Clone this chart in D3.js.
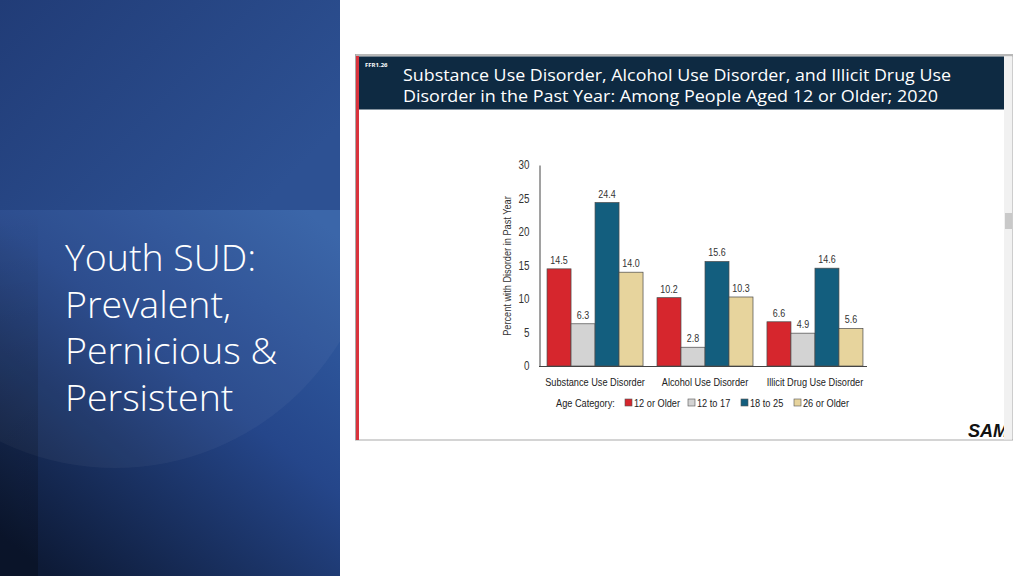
<!DOCTYPE html>
<meta charset="utf-8">
<script src="https://d3js.org/d3.v7.min.js"></script>
<style>
body { margin: 0; background: #fff; }
svg { display: block; }
.narrow { font-family: "Liberation Sans Narrow", "Arial Narrow", "Liberation Sans", Arial, sans-serif; }
</style>
<body>
<div id="my_dataviz"></div>
<script>
  // data
  var categories = ["Substance Use Disorder", "Alcohol Use Disorder", "Illicit Drug Use Disorder"];
  var ageGroups = ["12 or Older", "12 to 17", "18 to 25", "26 or Older"];
  var values12Plus = [14.5, 10.2, 6.6];
  var values12to17 = [6.3, 2.8, 4.9];
  var values18to25 = [24.4, 15.6, 14.6];
  var values26Plus = [14.0, 10.3, 5.6];
  var yTicks = [0, 5, 10, 15, 20, 25, 30];
  var titleLines = ["Substance Use Disorder, Alcohol Use Disorder, and Illicit Drug Use",
                    "Disorder in the Past Year: Among People Aged 12 or Older; 2020"];
  var slideTitle = ["Youth SUD:", "Prevalent,", "Pernicious &", "Persistent"];

  var seriesValues = [values12Plus, values12to17, values18to25, values26Plus];
  var colors = ["#d6262d", "#d3d3d3", "#135e7e", "#e7d49d"];

  // squeeze glyphs horizontally to mimic a narrow font
  function condense(sel, f) {
    sel.each(function() {
      var w = this.getComputedTextLength();
      d3.select(this).attr("textLength", w * f).attr("lengthAdjust", "spacingAndGlyphs");
    });
  }

  var W = 1024, H = 576;
  var svg = d3.select("#my_dataviz").append("svg")
      .attr("width", W).attr("height", H);

  var defs = svg.append("defs");

  // ---- left blue panel ----
  var g1 = defs.append("linearGradient").attr("id", "gTop")
      .attr("x1", "0").attr("y1", "0").attr("x2", "1").attr("y2", "0.6");
  g1.append("stop").attr("offset", "0").attr("stop-color", "#213c77");
  g1.append("stop").attr("offset", "1").attr("stop-color", "#2d5193");

  var g2 = defs.append("linearGradient").attr("id", "gBot")
      .attr("x1", "0.9").attr("y1", "0").attr("x2", "0.15").attr("y2", "1");
  g2.append("stop").attr("offset", "0").attr("stop-color", "#3360a6");
  g2.append("stop").attr("offset", "0.45").attr("stop-color", "#25468a");
  g2.append("stop").attr("offset", "1").attr("stop-color", "#0d1a36");

  var clip = defs.append("clipPath").attr("id", "leftClip");
  clip.append("rect").attr("x", 0).attr("y", 0).attr("width", 340).attr("height", H);
  var clipLow = defs.append("clipPath").attr("id", "lowClip");
  clipLow.append("rect").attr("x", 0).attr("y", 210).attr("width", 340).attr("height", H - 210);

  var left = svg.append("g").attr("clip-path", "url(#leftClip)");
  left.append("rect").attr("x", 0).attr("y", 0).attr("width", 340).attr("height", 210)
      .attr("fill", "url(#gTop)");
  left.append("rect").attr("x", 0).attr("y", 210).attr("width", 340).attr("height", H - 210)
      .attr("fill", "url(#gBot)");
  // faint circle, lower part only
  left.append("g").attr("clip-path", "url(#lowClip)")
    .append("circle").attr("cx", 115).attr("cy", 205).attr("r", 263)
      .attr("fill", "#ffffff").attr("opacity", 0.04);
  // darker left strip at the bottom
  var g3 = defs.append("linearGradient").attr("id", "gStrip")
      .attr("x1", "0").attr("y1", "0").attr("x2", "0").attr("y2", "1");
  g3.append("stop").attr("offset", "0").attr("stop-color", "#000").attr("stop-opacity", 0);
  g3.append("stop").attr("offset", "1").attr("stop-color", "#000").attr("stop-opacity", 0.25);
  left.append("rect").attr("x", 0).attr("y", 210).attr("width", 38).attr("height", H - 210)
      .attr("fill", "url(#gStrip)");

  left.append("text")
      .attr("x", 65).attr("y", 271)
      .style("font-family", "'Open Sans', 'Noto Sans', sans-serif")
      .style("font-weight", 300)
      .style("font-size", "37.5px")
      .attr("fill", "#ffffff")
    .selectAll("tspan").data(slideTitle).enter().append("tspan")
      .attr("x", 65)
      .attr("dy", function(d, i) { return i === 0 ? 0 : 46.7; })
      .text(function(d) { return d; });

  // ---- embedded chart picture ----
  var frame = svg.append("g");
  frame.append("rect").attr("x", 355.5).attr("y", 54.5).attr("width", 657).attr("height", 385.5)
      .attr("fill", "#ffffff").attr("stroke", "#a9a9a9").attr("stroke-width", 1);
  frame.append("rect").attr("x", 356).attr("y", 54).attr("width", 657).attr("height", 2.5)
      .attr("fill", "#b8b8b8");
  frame.append("rect").attr("x", 359).attr("y", 56.5).attr("width", 645).attr("height", 53)
      .attr("fill", "#0e2a42");
  frame.append("rect").attr("x", 356).attr("y", 56).attr("width", 3).attr("height", 384)
      .attr("fill", "#d9333d");
  // scrollbar strip
  frame.append("rect").attr("x", 1004).attr("y", 56.5).attr("width", 8.5).attr("height", 383)
      .attr("fill", "#f1f1f1");
  frame.append("rect").attr("x", 1005).attr("y", 213).attr("width", 7).attr("height", 16)
      .attr("fill", "#c9c9c9");

  frame.append("text").attr("x", 365).attr("y", 67)
      .style("font-family", "'Open Sans', sans-serif").style("font-weight", 700)
      .style("font-size", "6px").attr("fill", "#ffffff").text("FFR1.26");

  frame.selectAll(".title").data(titleLines).enter().append("text")
      .attr("class", "title")
      .attr("x", 403)
      .attr("y", function(d, i) { return 81 + i * 20.5; })
      .attr("textLength", function(d, i) { return i === 0 ? 548 : 535; })
      .attr("lengthAdjust", "spacingAndGlyphs")
      .style("font-family", "'Open Sans', 'Noto Sans', sans-serif")
      .style("font-size", "17px")
      .attr("fill", "#ffffff")
      .text(function(d) { return d; });

  // SAMHSA logo text, cut off by the strip as in the picture
  var clip2 = defs.append("clipPath").attr("id", "samClip");
  clip2.append("rect").attr("x", 900).attr("y", 400).attr("width", 104).attr("height", 40);
  frame.append("g").attr("clip-path", "url(#samClip)")
    .append("text").attr("x", 968).attr("y", 437)
      .style("font-family", "'Liberation Sans', Arial, sans-serif")
      .style("font-weight", 700).style("font-style", "italic")
      .style("font-size", "19px").attr("fill", "#111")
      .text("SAMHSA")
      .call(condense, 0.95);

  // ---- bar chart ----
  var x0 = d3.scaleBand().domain(categories).range([540, 870])
      .paddingInner(0.127).paddingOuter(0.064);
  var x1 = d3.scaleBand().domain(ageGroups).range([0, x0.bandwidth()]);
  var y = d3.scaleLinear().domain([0, 30]).range([366, 165]);

  var chart = svg.append("g").attr("class", "narrow");

  var yAxis = chart.append("g").attr("transform", "translate(539.5,0)")
      .call(d3.axisLeft(y).tickValues(yTicks).tickSize(0).tickPadding(10));
  yAxis.select(".domain").attr("stroke", "#444").attr("stroke-width", 1);
  yAxis.selectAll("text").style("font-family", "inherit").style("font-size", "12px")
      .attr("fill", "#333").call(condense, 0.82);

  chart.append("text")
      .attr("transform", "translate(511,266) rotate(-90)")
      .attr("text-anchor", "middle")
      .style("font-size", "11.5px").attr("fill", "#333")
      .text("Percent with Disorder in Past Year")
      .call(condense, 0.8);

  var groups = chart.selectAll(".grp").data(categories).enter().append("g")
      .attr("class", "grp")
      .attr("transform", function(d) { return "translate(" + x0(d) + ",0)"; });

  groups.selectAll("rect")
    .data(function(d, ci) { return ageGroups.map(function(a, k) { return { age: a, k: k, v: seriesValues[k][ci] }; }); })
    .enter().append("rect")
      .attr("x", function(d) { return x1(d.age); })
      .attr("y", function(d) { return y(d.v); })
      .attr("width", x1.bandwidth())
      .attr("height", function(d) { return y(0) - y(d.v); })
      .attr("fill", function(d) { return colors[d.k]; })
      .attr("stroke", "#4a4a4a").attr("stroke-width", 0.7);

  groups.selectAll(".val")
    .data(function(d, ci) { return ageGroups.map(function(a, k) { return { age: a, v: seriesValues[k][ci] }; }); })
    .enter().append("text")
      .attr("class", "val")
      .attr("x", function(d) { return x1(d.age) + x1.bandwidth() / 2; })
      .attr("y", function(d) { return y(d.v) - 5; })
      .attr("text-anchor", "middle")
      .style("font-size", "10.5px").attr("fill", "#333")
      .text(function(d) { return d.v.toFixed(1); })
      .call(condense, 0.85);

  var xAxis = chart.append("g").attr("transform", "translate(0,366.5)")
      .call(d3.axisBottom(x0).tickSize(0).tickPadding(11));
  xAxis.select(".domain").attr("d", "M539,0H867").attr("stroke", "#444");
  xAxis.selectAll("text").style("font-family", "inherit").style("font-size", "11.5px")
      .attr("fill", "#222").call(condense, 0.8);

  // legend
  var legend = chart.append("g").attr("transform", "translate(0,407)");
  legend.append("text").attr("x", 556).attr("y", 0)
      .style("font-size", "11.5px").attr("fill", "#222").text("Age Category:")
      .call(condense, 0.8);
  var legX = [625, 688, 741, 794];
  var items = legend.selectAll(".leg").data(ageGroups).enter().append("g")
      .attr("transform", function(d, i) { return "translate(" + legX[i] + ",0)"; });
  items.append("rect").attr("x", 0).attr("y", -8).attr("width", 7).attr("height", 7)
      .attr("fill", function(d, i) { return colors[i]; })
      .attr("stroke", "#555").attr("stroke-width", 0.6);
  items.append("text").attr("x", 9).attr("y", 0)
      .style("font-size", "11.5px").attr("fill", "#222")
      .text(function(d) { return d; })
      .call(condense, 0.8);
</script>
</body>
